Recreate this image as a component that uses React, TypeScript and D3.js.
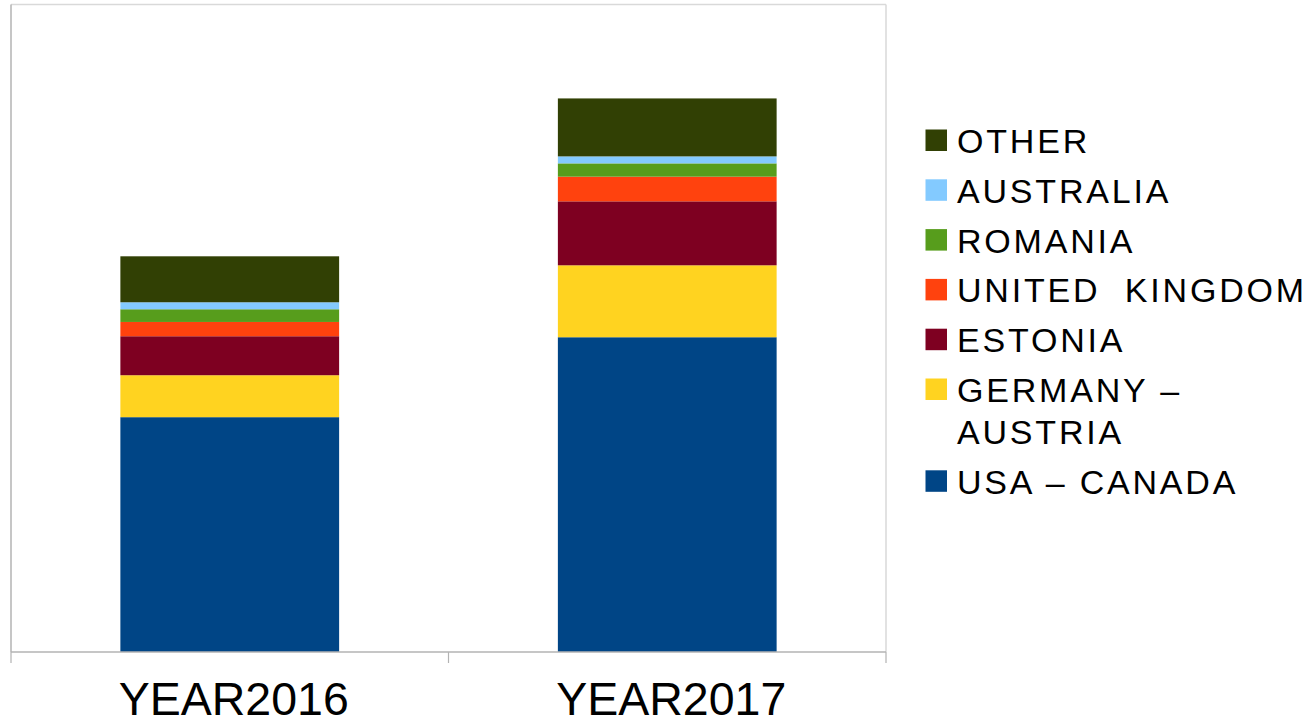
import React from "react";
import * as d3 from "d3";

const years = ["YEAR2016", "YEAR2017"];
const seriesNames = ["USA – CANADA", "GERMANY – AUSTRIA", "ESTONIA", "UNITED  KINGDOM", "ROMANIA", "AUSTRALIA", "OTHER"];
const seriesColors = ["#004586", "#ffd320", "#7e0021", "#ff420e", "#579d1c", "#83caff", "#314004"];
const usaCanada = [235, 315];
const germanyAustria = [42, 72];
const estonia = [39, 64];
const unitedKingdom = [14.3, 24.7];
const romania = [12.7, 13.3];
const australia = [7, 7];
const other = [46, 58];
const yMax = 648;

const W = 1307;
const H = 720;
const plot = { left: 11, right: 886, top: 4.5, bottom: 652 };

export default function App() {
  const cols = [usaCanada, germanyAustria, estonia, unitedKingdom, romania, australia, other];
  const rows = years.map((y, i) => {
    const r: any = { year: y };
    seriesNames.forEach((s, k) => (r[s] = cols[k][i]));
    return r;
  });
  const stacked = d3.stack<any>().keys(seriesNames)(rows);
  const x = d3.scaleBand<string>().domain(years).range([plot.left, plot.right]).paddingInner(0.5).paddingOuter(0.25);
  const y = d3.scaleLinear().domain([0, yMax]).range([plot.bottom, plot.top]);
  const step = x.step();
  const ticks = [plot.left, plot.left + step, plot.left + 2 * step];

  const legendItems = [
    { name: "OTHER", lines: ["OTHER"], color: seriesColors[6] },
    { name: "AUSTRALIA", lines: ["AUSTRALIA"], color: seriesColors[5] },
    { name: "ROMANIA", lines: ["ROMANIA"], color: seriesColors[4] },
    { name: "UK", lines: ["UNITED  KINGDOM"], color: seriesColors[3] },
    { name: "ESTONIA", lines: ["ESTONIA"], color: seriesColors[2] },
    { name: "GER", lines: ["GERMANY –", "AUSTRIA"], color: seriesColors[1] },
    { name: "USA", lines: ["USA – CANADA"], color: seriesColors[0] },
  ];
  let baseline = 153;
  const legendLayout = legendItems.map((it) => {
    const b = baseline;
    baseline += 49.8 + (it.lines.length - 1) * 42;
    return { ...it, baseline: b };
  });

  return (
    <svg width={W} height={H} style={{ position: "absolute", left: 0, top: 0, background: "#fff" }} fontFamily="'Liberation Sans', Arial, sans-serif">
      <rect x={0} y={0} width={W} height={H} fill="#fff" />
      <line x1={plot.left} x2={plot.right} y1={plot.top} y2={plot.top} stroke="#d9d9d9" strokeWidth={1.5} />
      <line x1={plot.right} x2={plot.right} y1={plot.top} y2={plot.bottom} stroke="#d9d9d9" strokeWidth={1.5} />
      <line x1={plot.left} x2={plot.left} y1={plot.top} y2={plot.bottom} stroke="#b3b3b3" strokeWidth={1.5} />
      {stacked.map((s, k) => (
        <g key={s.key} fill={seriesColors[k]}>
          {s.map((d: any, i: number) => (
            <rect key={i} x={x(d.data.year)} width={x.bandwidth()} y={y(d[1])} height={y(d[0]) - y(d[1])} />
          ))}
        </g>
      ))}
      <line x1={plot.left} x2={plot.right} y1={plot.bottom} y2={plot.bottom} stroke="#b3b3b3" strokeWidth={1.5} />
      {ticks.map((t, i) => (
        <line key={i} x1={t} x2={t} y1={plot.bottom} y2={plot.bottom + 11} stroke="#b3b3b3" strokeWidth={1.2} />
      ))}
      {years.map((yr) => (
        <text key={yr} x={(x(yr) as number) + x.bandwidth() / 2 + 4} y={715} textAnchor="middle" fontSize={46.5} fill="#000">
          {yr}
        </text>
      ))}
      {legendLayout.map((it) => (
        <g key={it.name}>
          <rect x={925.5} y={it.baseline - 23.5} width={21.5} height={21.5} fill={it.color} />
          {it.lines.map((ln, j) => (
            <text key={j} x={957} y={it.baseline + j * 42} fontSize={34} letterSpacing={2.8} fill="#000" style={{ whiteSpace: "pre" }}>
              {ln}
            </text>
          ))}
        </g>
      ))}
    </svg>
  );
}
